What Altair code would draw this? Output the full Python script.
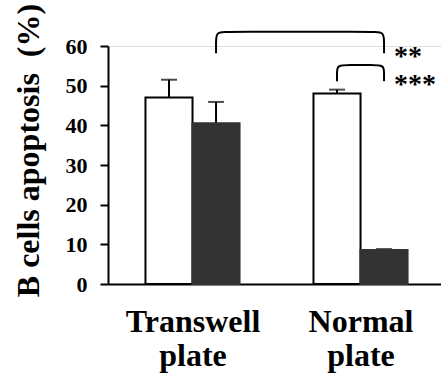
import json
import altair as alt
import pandas as pd

# Group labels, per-bar means and SEM (open bar first, filled bar second)
groups = ["Transwell plate", "Normal plate"]
series = ["open", "filled"]
means = [47.0, 40.5, 48.0, 8.6]
errors = [4.5, 5.4, 1.0, 0.2]

# Significance brackets: (from bar, to bar, leg bottom, bracket top, label)
bracket_from = [1, 2]
bracket_to = [3, 3]
bracket_low = [58.2, 51.1]
bracket_top = [63.6, 55.2]
bracket_labels = ["**", "***"]

FONT = "Liberation Serif"
HALF = 0.14  # half bar width in group units

bars = []
for i, (m, e) in enumerate(zip(means, errors)):
    g, s = divmod(i, 2)
    xc = g + (HALF if s else -HALF)
    bars.append(dict(group=groups[g], series=series[s], xc=xc,
                     x0=xc - HALF, x1=xc + HALF, mean=m, top=m + e, base=0))
bars = pd.DataFrame(bars)

# Bracket outlines with rounded corners (basis-smoothed polyline)
pts = []
for b, (a, z, lo, hi) in enumerate(zip(bracket_from, bracket_to, bracket_low, bracket_top)):
    xa, xz = bars.xc[a], bars.xc[z]
    rx, ry = 0.07, (hi - lo) * 0.5
    path = [(xa, lo), (xa, hi - ry), (xa, hi), (xa + rx, hi),
            (xz - rx, hi), (xz, hi), (xz, hi - ry), (xz, lo)]
    for k, (px, py) in enumerate(path):
        pts.append(dict(bracket=b, k=k, x=px, y=py))
pts = pd.DataFrame(pts)

stars = pd.DataFrame(dict(
    x=[bars.xc[z] for z in bracket_to],
    y=bracket_low,
    label=bracket_labels,
))

xscale = alt.Scale(domain=[-0.503, 1.479], nice=False, zero=False)
yscale = alt.Scale(domain=[0, 60], nice=False)

label_expr = f"split({json.dumps(groups)}[round(datum.value)], ' ')"

x_axis = alt.Axis(values=[0, 1], labelExpr=label_expr, ticks=False,
                  labelFontSize=32, labelPadding=22, labelLineHeight=34,
                  labelOverlap=False, labelFlush=False, title=None)
y_axis = alt.Axis(values=[0, 10, 20, 30, 40, 50, 60], tickSize=8,
                  labelFontSize=22, labelPadding=13, labelOverlap=False,
                  title="B cells apoptosis\u00a0 (%)", titleFontSize=32,
                  titleAngle=270, titleAlign="center", titleBaseline="alphabetic",
                  titleX=-70, titleY=104)


def X(field):
    return alt.X(field, type="quantitative", scale=xscale, axis=x_axis)


def Y(field):
    return alt.Y(field, type="quantitative", scale=yscale, axis=y_axis)


base = alt.Chart(bars)

err_line = base.mark_rule(color="black", strokeWidth=2).encode(
    x=X("xc"), y=Y("mean"), y2="top:Q")
err_cap = base.mark_tick(color="black", orient="horizontal", size=16,
                         thickness=2).encode(x=X("xc"), y=Y("top"))

bar = base.mark_bar(strokeWidth=2).encode(
    x=X("x0"),
    x2="x1:Q",
    y=Y("mean"),
    y2="base:Q",
    fill=alt.Fill("series:N", scale=alt.Scale(domain=series, range=["white", "#333333"]), legend=None),
    stroke=alt.Stroke("series:N", scale=alt.Scale(domain=series, range=["black", "#333333"]), legend=None),
)

brackets = alt.Chart(pts).mark_line(color="black", strokeWidth=2,
                                    interpolate="basis").encode(
    x=X("x"), y=Y("y"), detail="bracket:N", order="k:Q")

star_text = alt.Chart(stars).mark_text(font=FONT, fontWeight="bold", fontSize=28,
                                       align="left", baseline="middle", dx=10,
                                       dy=4, color="black").encode(
    x=X("x"), y=Y("y"), text="label:N")

chart = alt.layer(err_line, err_cap, bar, brackets, star_text).properties(
    width=333, height=238,
    autosize=alt.AutoSizeParams(type="none"),
    padding={"left": 108, "top": 46, "right": 0, "bottom": 94},
).configure_view(stroke=None).configure(background="white", font=FONT).configure_axis(
    grid=False, domainColor="black", domainWidth=2, tickColor="black",
    tickWidth=2, labelFont=FONT, labelFontWeight="bold", labelColor="black",
    titleFont=FONT, titleFontWeight="bold", titleColor="black",
)

chart.save("out.html", embed_options={"renderer": "svg", "actions": False})
